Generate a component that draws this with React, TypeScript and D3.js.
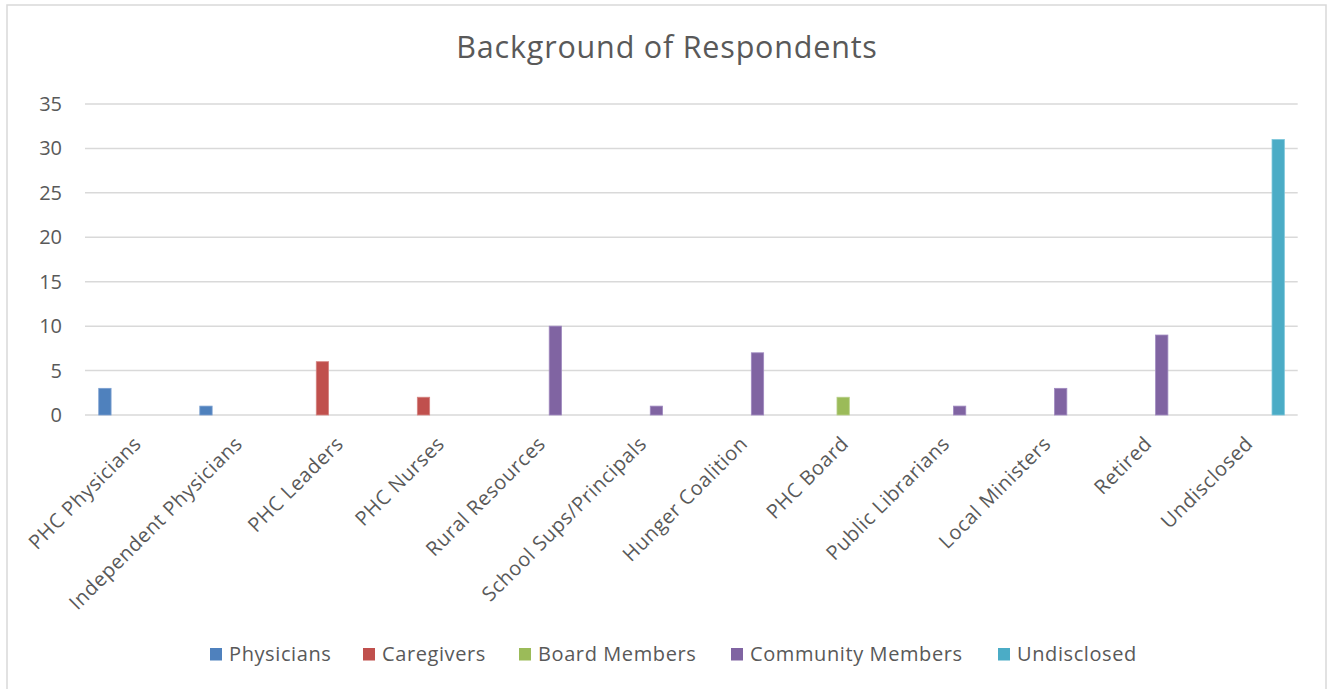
import React from "react";
import * as d3 from "d3";

const categories = [
  "PHC Physicians",
  "Independent Physicians",
  "PHC Leaders",
  "PHC Nurses",
  "Rural Resources",
  "School Sups/Principals",
  "Hunger Coalition",
  "PHC Board",
  "Public Librarians",
  "Local Ministers",
  "Retired",
  "Undisclosed",
];

const seriesNames = ["Physicians", "Caregivers", "Board Members", "Community Members", "Undisclosed"];
const physicians = [3, 1, 0, 0, 0, 0, 0, 0, 0, 0, 0, 0];
const caregivers = [0, 0, 6, 2, 0, 0, 0, 0, 0, 0, 0, 0];
const boardMembers = [0, 0, 0, 0, 0, 0, 0, 2, 0, 0, 0, 0];
const communityMembers = [0, 0, 0, 0, 10, 1, 7, 0, 1, 3, 9, 0];
const undisclosed = [0, 0, 0, 0, 0, 0, 0, 0, 0, 0, 0, 31];
const yTicks = [0, 5, 10, 15, 20, 25, 30, 35];

const seriesValues = [physicians, caregivers, boardMembers, communityMembers, undisclosed];
const colors = ["#4F81BD", "#C0504D", "#9BBB59", "#8064A2", "#4BACC6"];
const strokes = ["#7a9fd0", "#d58482", "#b8d08a", "#a08ac0", "#7cc6da"];

const W = 1331;
const H = 689;
const FONT = "'Open Sans', 'Noto Sans', sans-serif";
const TEXT = "#595959";

export default function App() {
  const left = 85;
  const right = 1297.7;
  const top = 104;
  const bottom = 415;

  const x0 = d3.scaleBand<string>().domain(categories).range([left, right]).padding(0);
  const bw = x0.bandwidth();
  const x1 = d3
    .scaleBand<string>()
    .domain(seriesNames)
    .range([bw * 0.136, bw * 0.868])
    .paddingInner(0.2)
    .paddingOuter(0);
  const y = d3.scaleLinear().domain([0, 35]).range([bottom, top]);

  const legendX = [210, 363, 519, 731, 998];

  return (
    <svg
      width={W}
      height={H}
      style={{ position: "absolute", left: 0, top: 0, background: "#fff" }}
      fontFamily={FONT}
    >
      <rect x={7} y={5} width={1319} height={H + 10} fill="#fff" stroke="#d9d9d9" strokeWidth={1.5} />
      <text x={667} y={58} textAnchor="middle" fontSize={30.5} letterSpacing={0.8} fill={TEXT}>
        Background of Respondents
      </text>
      {yTicks.map((t) => (
        <g key={t}>
          <line x1={left} x2={right} y1={y(t)} y2={y(t)} stroke="#d9d9d9" strokeWidth={1.5} />
          <text x={62} y={y(t)} dy="0.35em" textAnchor="end" fontSize={20} fill={TEXT}>
            {t}
          </text>
        </g>
      ))}
      {seriesValues.map((vals, si) =>
        vals.map((v, ci) =>
          v > 0 ? (
            <rect
              key={`${si}-${ci}`}
              x={(x0(categories[ci]) as number) + (x1(seriesNames[si]) as number)}
              y={y(v)}
              width={x1.bandwidth()}
              height={y(0) - y(v)}
              fill={colors[si]}
              stroke={strokes[si]}
              strokeWidth={0.8}
            />
          ) : null
        )
      )}
      {categories.map((c) => {
        const cx = (x0(c) as number) + bw / 2 + 7;
        const cy = 445;
        return (
          <text
            key={c}
            x={cx}
            y={cy}
            transform={`rotate(-45, ${cx}, ${cy})`}
            textAnchor="end"
            fontSize={20}
            letterSpacing={0.6}
            fill={TEXT}
          >
            {c}
          </text>
        );
      })}
      {seriesNames.map((s, i) => (
        <g key={s}>
          <rect x={legendX[i]} y={648} width={12} height={12.5} fill={colors[i]} />
          <text x={legendX[i] + 19} y={654} dy="0.35em" fontSize={20} letterSpacing={0.6} fill={TEXT}>
            {s}
          </text>
        </g>
      ))}
    </svg>
  );
}
